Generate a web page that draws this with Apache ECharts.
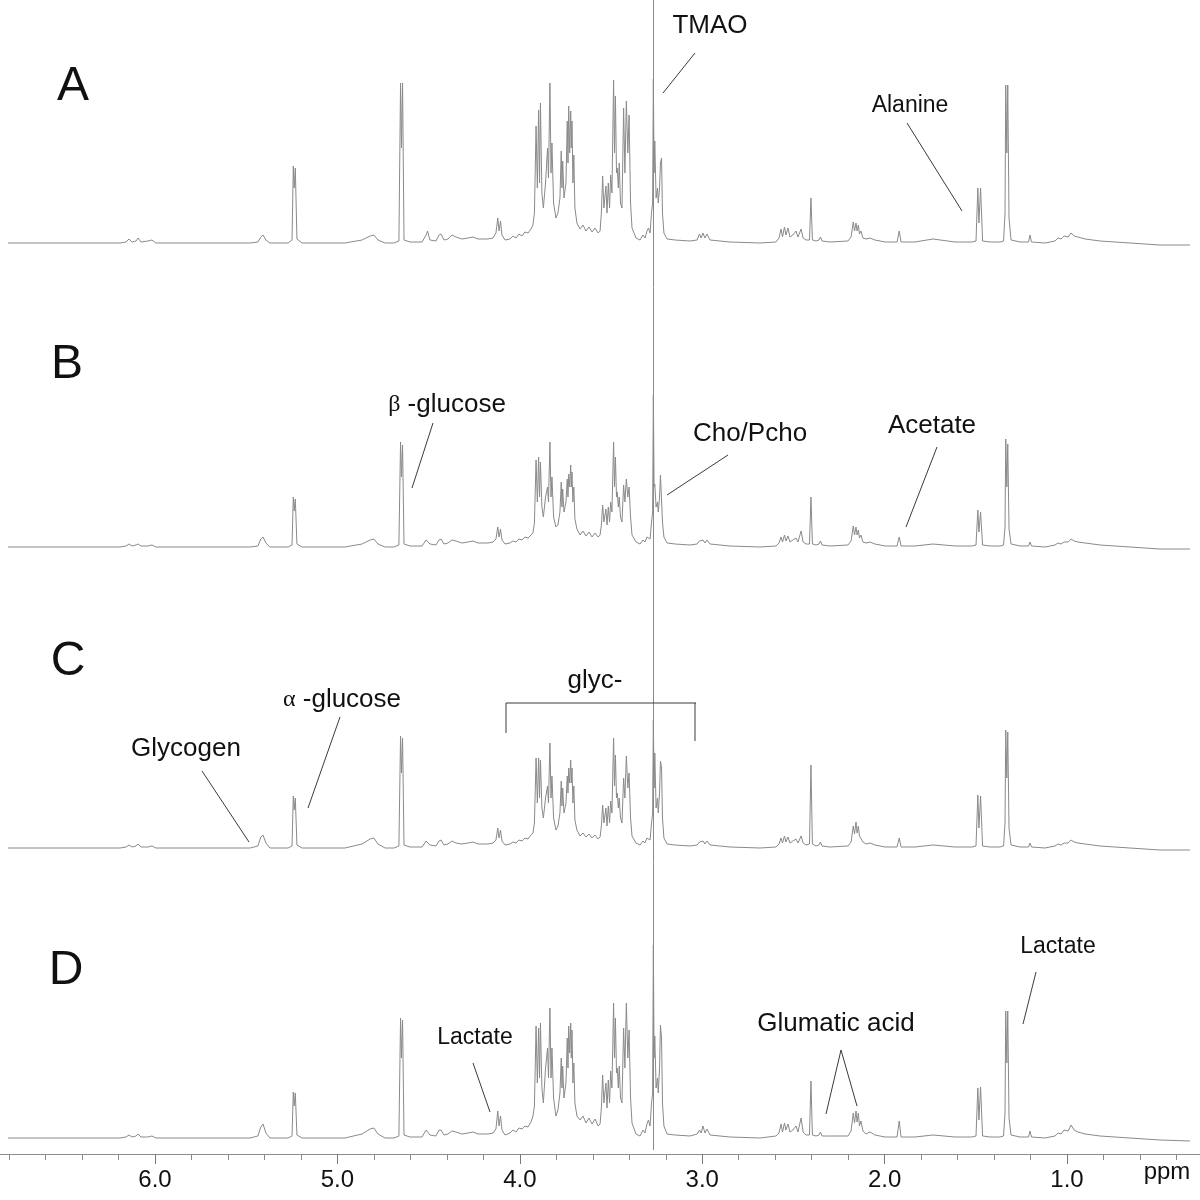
<!DOCTYPE html>
<html><head><meta charset="utf-8">
<script src="https://cdn.jsdelivr.net/npm/echarts@6/dist/echarts.min.js"></script>
<style>html,body{margin:0;padding:0;background:#fff}#c{width:1200px;height:1200px}</style>
</head><body><div id="c"></div>
<script>
// Chemical shift (ppm) of each vertex of the traced spectra
const ppm = [
 6.806,6.192,6.159,6.143,6.126,6.104,6.093,6.077,6.039,6.017,5.995,5.918,5.479,
 5.436,5.420,5.408,5.392,5.370,
 5.271,5.249,5.242,5.237,5.231,5.222,5.194,
 4.959,4.865,4.821,4.800,4.778,4.739,4.690,
 4.663,4.654,4.649,4.643,4.635,4.602,
 4.536,4.514,4.506,4.493,4.460,4.443,4.432,4.416,4.394,4.372,4.350,4.317,4.284,4.257,4.229,4.175,4.147,
 4.131,4.121,4.114,4.106,4.098,4.081,
 4.054,4.038,4.021,4.005,3.988,3.972,3.955,3.939,3.928,
 3.920,3.911,3.904,3.897,3.892,3.887,3.879,3.871,3.859,3.848,3.843,3.835,3.829,3.824,3.815,3.802,
 3.791,3.780,3.773,3.769,3.765,3.758,3.747,3.740,3.736,3.732,3.727,3.721,3.718,3.714,3.709,3.704,3.698,3.687,3.670,
 3.654,3.637,3.621,3.604,3.588,3.571,3.560,
 3.553,3.546,3.539,3.528,3.522,3.515,3.508,3.502,3.495,3.486,3.481,3.476,3.470,3.466,3.460,3.455,3.448,3.440,3.431,3.424,3.416,3.408,3.401,3.393,3.385,
 3.363,3.341,3.325,3.314,3.303,3.295,3.286,3.278,
 3.272,3.268,3.264,3.260,3.253,3.245,3.241,3.234,3.229,3.223,3.218,3.210,3.193,
 3.149,3.067,3.028,3.015,3.006,2.996,2.985,2.974,2.957,2.848,2.683,2.596,
 2.579,2.568,2.560,2.549,2.541,2.530,2.519,2.503,2.486,2.475,2.458,2.447,2.431,
 2.412,2.404,2.396,2.376,
 2.360,2.352,2.343,2.300,2.201,
 2.184,2.172,2.165,2.157,2.151,2.144,2.138,2.130,2.119,2.102,2.080,2.053,1.998,
 1.932,1.920,1.910,1.834,1.735,1.614,1.521,
 1.499,1.489,1.483,1.474,1.463,1.422,1.368,
 1.348,1.340,1.336,1.330,1.325,1.318,1.307,1.258,
 1.211,1.203,1.195,1.121,1.066,1.049,1.033,1.016,0.994,0.978,0.961,0.940,0.901,0.819,0.655,0.490,0.326
];
// Intensities (arbitrary units) of spectra A-D at those vertices
const specA = [
 0,0,1,4,1,2,5,1,2,3,0,0,0,
 1,6,8,3,0,
 0,3,77,55,75,4,0,
 0,3,7,8,3,0,0,
 2,160,95,160,3,1,
 1,8,12,3,2,8,9,3,4,8,6,4,5,6,4,4,5,
 10,25,12,22,8,3,
 4,7,5,9,7,11,10,14,18,
 30,117,55,133,60,140,50,35,60,95,65,160,70,100,40,25,
 30,45,92,55,82,45,60,122,80,137,90,132,95,122,60,88,35,20,14,
 18,12,16,11,15,10,12,
 30,67,35,57,30,60,35,68,50,163,90,147,70,75,55,80,40,35,135,70,142,90,128,40,15,
 5,3,8,5,12,15,10,30,
 40,164,70,102,45,55,40,55,80,85,30,10,4,
 3,2,3,9,5,10,5,9,3,1,0,1,
 5,14,6,16,8,15,6,8,12,6,14,5,3,
 3,45,3,2,
 3,6,2,1,2,
 6,21,12,20,12,18,9,12,5,4,5,3,1,
 1,12,1,1,4,1,1,
 2,55,20,55,2,1,1,
 2,30,158,90,158,25,3,1,
 1,8,1,0,2,5,4,7,6,10,7,6,4,2,0,-2,-2
];
const specB = [
 0,0,1,3,1,2,3,1,1,2,0,0,0,
 1,8,10,4,0,
 0,2,50,36,48,3,0,
 0,3,7,8,3,0,0,
 2,105,70,102,3,1,
 1,7,9,3,2,7,8,3,4,7,6,4,5,6,4,4,5,
 8,20,10,18,7,3,
 4,6,5,8,7,10,9,12,14,
 24,87,45,90,50,85,40,30,50,60,45,105,50,70,30,20,
 22,35,65,40,58,35,45,68,50,73,60,82,60,75,45,60,28,18,12,
 16,11,15,10,14,10,12,
 22,42,25,38,22,40,25,45,35,105,60,90,50,55,40,50,30,25,62,45,68,50,60,30,12,
 5,3,7,5,10,12,8,25,
 35,152,60,63,40,45,35,50,72,70,25,10,4,
 3,2,3,6,4,7,4,7,3,1,0,1,
 4,10,5,12,6,11,5,7,9,5,16,5,3,
 3,50,3,2,
 3,6,2,1,2,
 6,21,12,20,12,17,9,12,5,4,5,3,1,
 1,10,1,1,3,1,1,
 2,37,15,35,2,1,1,
 2,20,108,60,103,18,3,1,
 1,5,1,0,2,4,3,5,5,8,6,5,4,2,0,-2,-2
];
const specC = [
 0,0,1,3,1,2,4,1,1,2,0,0,0,
 2,11,13,5,0,
 0,2,52,38,50,3,0,
 0,4,9,10,4,0,0,
 2,112,75,110,3,1,
 1,7,9,3,2,7,8,3,4,7,5,4,5,6,4,4,5,
 8,20,10,18,7,3,
 4,6,5,8,7,10,9,13,15,
 25,90,45,90,50,88,40,30,50,62,45,105,50,72,30,18,
 22,35,67,42,60,35,45,72,55,80,65,88,65,80,45,62,28,18,12,
 15,11,14,10,13,9,11,
 22,43,25,40,22,42,25,47,35,110,62,93,50,55,40,50,30,25,70,50,92,60,75,30,12,
 5,3,7,5,10,12,8,25,
 35,128,60,95,40,50,35,55,87,80,30,10,4,
 3,2,3,6,4,7,4,7,3,1,0,1,
 4,10,5,12,6,11,5,7,9,5,12,5,3,
 4,83,4,2,
 3,6,2,1,2,
 6,22,14,26,15,22,12,14,6,4,5,3,1,
 1,10,1,1,3,1,1,
 2,53,20,52,2,1,1,
 2,25,118,70,116,20,3,1,
 1,5,1,0,2,4,3,5,5,8,6,5,4,2,0,-2,-2
];
const specD = [
 0,0,1,3,1,2,4,1,1,2,0,0,0,
 2,11,14,5,0,
 0,2,46,32,45,3,0,
 0,4,9,10,4,0,0,
 2,120,80,118,3,1,
 1,8,9,3,2,8,8,3,4,7,6,4,5,6,4,4,5,
 9,27,12,22,8,3,
 5,8,6,10,9,12,11,16,22,
 32,112,55,110,60,115,50,35,70,90,60,130,60,90,40,22,
 28,45,80,50,72,40,55,100,70,112,85,115,80,108,55,75,35,22,18,
 22,15,20,14,19,12,14,
 30,63,35,55,30,58,35,67,50,135,80,120,65,70,50,72,40,35,110,70,135,80,108,40,15,
 4,2,8,5,14,18,12,35,
 45,193,80,102,50,60,45,70,113,100,35,12,4,
 3,2,4,8,5,12,5,9,3,1,0,2,
 5,14,6,15,8,14,6,8,12,6,20,6,3,
 3,57,3,2,
 3,6,2,2,2,
 7,25,15,27,16,25,12,17,7,4,6,3,1,
 1,17,1,1,3,1,1,
 2,50,18,51,2,1,1,
 2,25,127,75,127,20,3,1,
 1,7,1,0,2,5,4,8,7,13,8,6,4,2,0,-2,-3
];
const panelNames = ['A','B','C','D'];
const majorTicks = [1,2,3,4,5,6];
const minorTicks = [0.4,0.6,0.8,1.2,1.4,1.6,1.8,2.2,2.4,2.6,2.8,3.2,3.4,3.6,3.8,4.2,4.4,4.6,4.8,5.2,5.4,5.6,5.8,6.2,6.4,6.6,6.8];
const refLinePpm = 3.265; // TMAO reference line

const X_MIN = 0.271, X_MAX = 6.85;
const spectra = [specA, specB, specC, specD];
const layout = [
  {top: 43,  height: 210, yMin: -10},
  {top: 347, height: 210, yMin: -10},
  {top: 648, height: 210, yMin: -10},
  {top: 938, height: 216, yMin: -16}
];
const LINE = '#8a8a8a';
const FONT = "'Liberation Sans', Arial, sans-serif";

const grid = [], xAxis = [], yAxis = [], series = [];
layout.forEach((l, i) => {
  grid.push({left: 0, right: 0, top: l.top, height: l.height});
  const isBottom = i === 3;
  xAxis.push({
    type: 'value', gridIndex: i, inverse: true, min: X_MIN, max: X_MAX,
    show: isBottom, position: 'bottom',
    splitLine: {show: false},
    axisLine: {show: true, onZero: false, lineStyle: {color: '#8a8a8a', width: 1}},
    axisTick: {show: true, customValues: majorTicks, length: 10, inside: false, lineStyle: {color: '#7a7a7a'}},
    axisLabel: {show: true, customValues: majorTicks, margin: 14, color: '#111', fontSize: 24, fontFamily: FONT,
      formatter: v => Number(v).toFixed(1)}
  });
  yAxis.push({type: 'value', gridIndex: i, min: l.yMin, max: l.yMin + l.height, show: false, splitLine: {show: false}});
  series.push({
    type: 'line', xAxisIndex: i, yAxisIndex: i, symbol: 'none', showSymbol: false,
    silent: true, animation: false, clip: false,
    lineStyle: {color: LINE, width: 1},
    data: ppm.map((p, k) => [p, spectra[i][k]])
  });
});
// minor ticks on the bottom axis
xAxis.push({
  type: 'value', gridIndex: 3, inverse: true, min: X_MIN, max: X_MAX, position: 'bottom',
  splitLine: {show: false}, axisLine: {show: false, onZero: false},
  axisTick: {show: true, customValues: minorTicks, length: 6, inside: false, lineStyle: {color: '#8a8a8a'}},
  axisLabel: {show: false}
});
// overlay grid for the vertical reference line
grid.push({left: 0, right: 0, top: 0, height: 1150});
xAxis.push({type: 'value', gridIndex: 4, inverse: true, min: X_MIN, max: X_MAX, show: false, splitLine: {show: false}});
yAxis.push({type: 'value', gridIndex: 4, min: 0, max: 1, show: false, splitLine: {show: false}});
series.push({
  type: 'line', xAxisIndex: 5, yAxisIndex: 4, data: [], silent: true, animation: false,
  markLine: {silent: true, symbol: ['none', 'none'], label: {show: false},
    lineStyle: {color: '#8a8a8a', width: 1, type: 'solid'},
    data: [{xAxis: refLinePpm}]}
});

function txt(text, x, y, size, family) {
  return {type: 'text', z: 100, style: {text, x, y, fill: '#111',
    font: size + 'px ' + family, align: 'center', verticalAlign: 'middle'}};
}
function greek(letter, rest, x, y) {
  return {type: 'text', z: 100, style: {text: '{g|' + letter + '}' + rest, x, y, align: 'center', verticalAlign: 'middle',
    font: '26px ' + FONT, fill: '#111', rich: {g: {fontFamily: "'Liberation Serif', serif", fontSize: 24, fill: '#111'}}}};
}
function ln(x1, y1, x2, y2) {
  return {type: 'line', z: 100, shape: {x1, y1, x2, y2}, style: {stroke: '#3a3a3a', lineWidth: 1}};
}
const letterPos = [[73, 87], [67, 365], [68, 662], [66, 971]];
const graphic = [];
panelNames.forEach((n, i) => graphic.push(txt(n, letterPos[i][0], letterPos[i][1], 48, FONT)));
graphic.push(
  txt('TMAO', 710, 26, 26, FONT), ln(695, 53, 663, 93),
  txt('Alanine', 910, 106, 23, FONT), ln(907, 123, 962, 211),
  greek('β', ' -glucose', 447, 405), ln(433, 423, 412, 488),
  txt('Cho/Pcho', 750, 434, 26, FONT), ln(728, 455, 667, 495),
  txt('Acetate', 932, 426, 26, FONT), ln(937, 447, 906, 527),
  txt('glyc-', 595, 681, 26, FONT),
  ln(506, 703, 696, 703), ln(506, 703, 506, 733), ln(695, 703, 695, 741),
  greek('α', ' -glucose', 342, 700), ln(340, 717, 308, 808),
  txt('Glycogen', 186, 749, 26, FONT), ln(202, 771, 249, 842),
  txt('Lactate', 475, 1038, 23, FONT), ln(473, 1063, 490, 1112),
  txt('Glumatic acid', 836, 1024, 26, FONT), ln(841, 1050, 826, 1114), ln(841, 1050, 857, 1106),
  txt('Lactate', 1058, 947, 23, FONT), ln(1036, 972, 1023, 1024),
  txt('ppm', 1167, 1172, 24, FONT)
);

const chart = echarts.init(document.getElementById('c'), null, {renderer: 'canvas'});
chart.setOption({animation: false, backgroundColor: '#fff', grid, xAxis, yAxis, series, graphic});
</script></body></html>
